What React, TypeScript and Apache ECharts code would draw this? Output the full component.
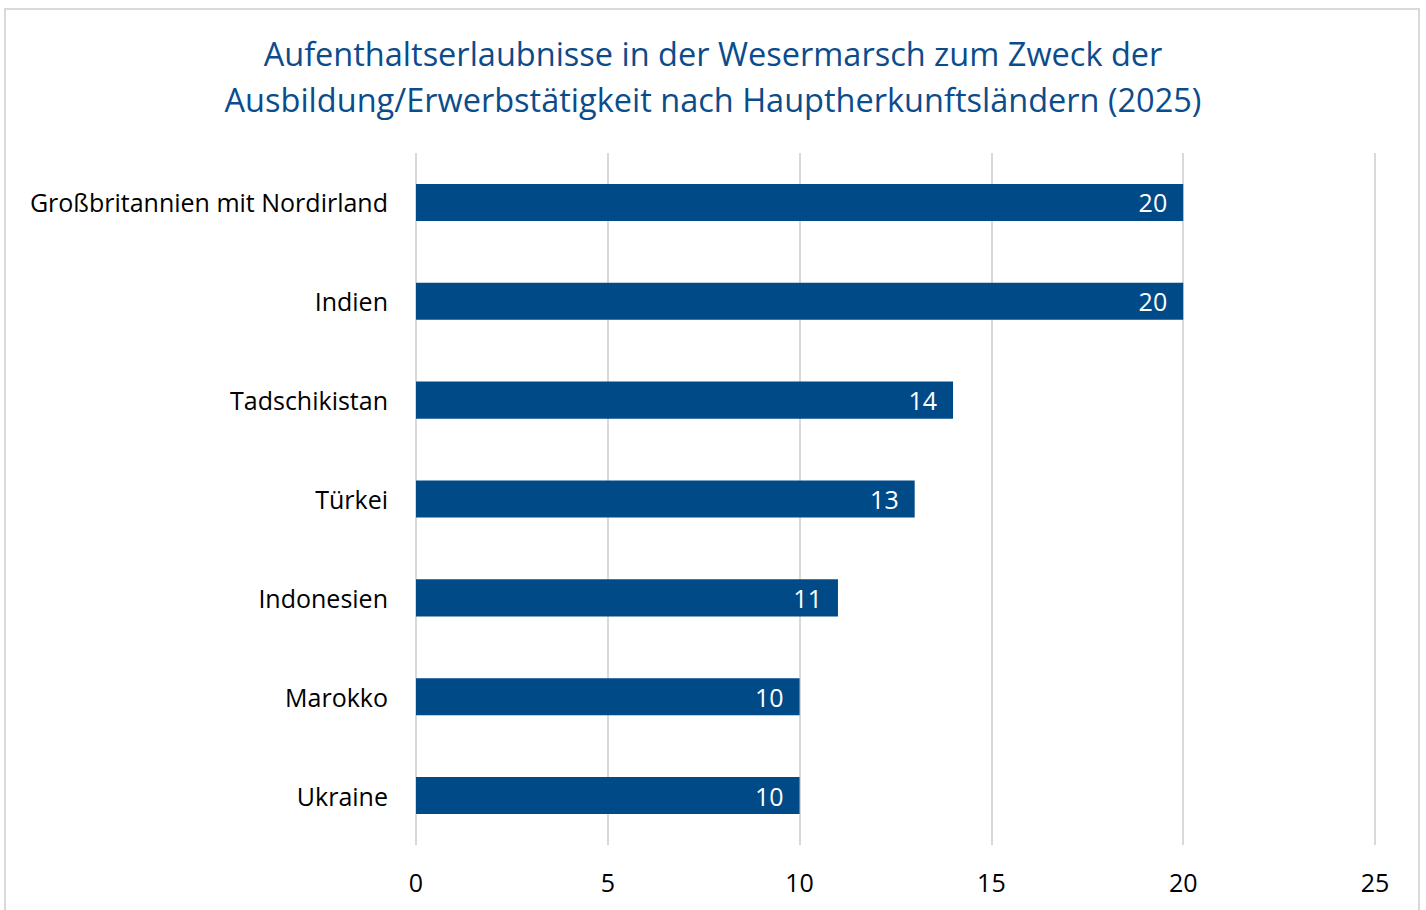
import React, { useEffect, useRef } from "react";
import * as echarts from "echarts";

const titleLines = [
  "Aufenthaltserlaubnisse in der Wesermarsch zum Zweck der",
  "Ausbildung/Erwerbstätigkeit nach Hauptherkunftsländern (2025)",
];
const categories = [
  "Großbritannien mit Nordirland",
  "Indien",
  "Tadschikistan",
  "Türkei",
  "Indonesien",
  "Marokko",
  "Ukraine",
];
const values = [20, 20, 14, 13, 11, 10, 10];
const xMin = 0;
const xMax = 25;
const xInterval = 5;

const FONT = "'Open Sans', sans-serif";

export default function App() {
  const ref = useRef<HTMLDivElement>(null);
  useEffect(() => {
    document.body.style.margin = "0";
    if (!ref.current) return;
    const chart = echarts.init(ref.current, null, { renderer: "svg" });
    chart.setOption({
      animation: false,
      backgroundColor: "#ffffff",
      title: {
        text: titleLines.join("\n"),
        left: "center",
        top: 25,
        textStyle: {
          fontFamily: FONT,
          fontSize: 32.5,
          fontWeight: "normal",
          color: "#0B4C8C",
          lineHeight: 46,
        },
      },
      graphic: [
        {
          type: "rect",
          shape: { x: 5, y: 9, width: 1414, height: 920 },
          style: { fill: "none", stroke: "#d9d9d9", lineWidth: 2 },
          silent: true,
        },
      ],
      grid: { left: 416, right: 51, top: 153, bottom: 65 },
      xAxis: {
        type: "value",
        min: xMin,
        max: xMax,
        interval: xInterval,
        axisLine: { show: false },
        axisTick: { show: false },
        splitLine: { show: true, lineStyle: { color: "#d9d9d9", width: 2 } },
        axisLabel: {
          margin: 24,
          fontFamily: FONT,
          fontSize: 25,
          color: "#000000",
        },
      },
      yAxis: {
        type: "category",
        data: categories,
        inverse: true,
        axisLine: { show: false },
        axisTick: { show: false },
        splitLine: { show: false },
        axisLabel: {
          margin: 28,
          fontFamily: FONT,
          fontSize: 25,
          color: "#000000",
        },
      },
      series: [
        {
          type: "bar",
          data: values,
          barWidth: "37.5%",
          itemStyle: { color: "#004A88" },
          label: {
            show: true,
            position: "insideRight",
            distance: 16,
            fontFamily: FONT,
            fontSize: 25,
            color: "#ffffff",
          },
        },
      ],
    });
    return () => chart.dispose();
  }, []);
  return <div ref={ref} style={{ width: 1426, height: 910 }} />;
}
